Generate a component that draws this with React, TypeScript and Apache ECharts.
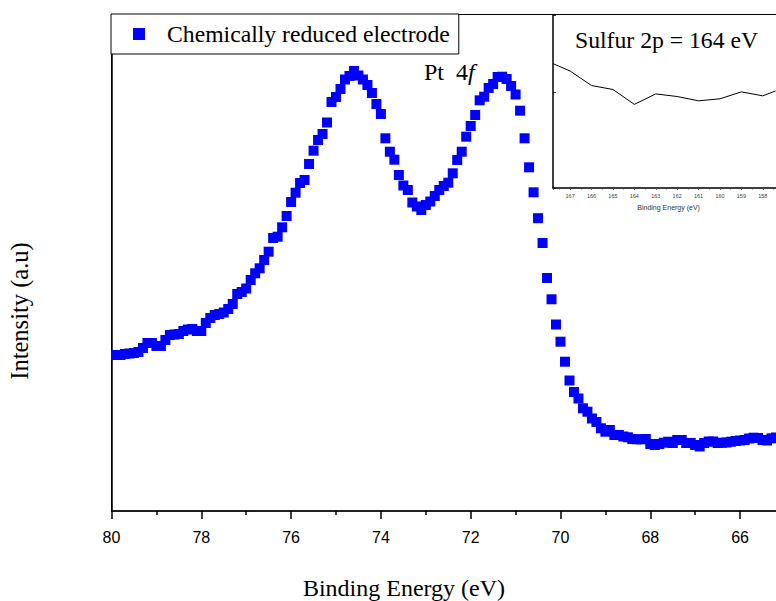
import React, { useEffect, useRef } from 'react';
import * as echarts from 'echarts';

// Main spectrum: binding energy (eV) and intensity (a.u.)
const energies = [
  79.9, 79.8, 79.7, 79.6, 79.5, 79.4, 79.3, 79.2, 79.1, 79.0,
  78.9, 78.8, 78.7, 78.6, 78.5, 78.4, 78.3, 78.2, 78.1, 78.0,
  77.9, 77.8, 77.7, 77.6, 77.5, 77.4, 77.3, 77.2, 77.1, 77.0,
  76.9, 76.8, 76.7, 76.6, 76.5, 76.4, 76.3, 76.2, 76.1, 76.0,
  75.9, 75.8, 75.7, 75.6, 75.5, 75.4, 75.3, 75.2, 75.1, 75.0,
  74.9, 74.8, 74.7, 74.6, 74.5, 74.4, 74.3, 74.2, 74.1, 74.0,
  73.9, 73.8, 73.7, 73.6, 73.5, 73.4, 73.3, 73.2, 73.1, 73.0,
  72.9, 72.8, 72.7, 72.6, 72.5, 72.4, 72.3, 72.2, 72.1, 72.0,
  71.9, 71.8, 71.7, 71.6, 71.5, 71.4, 71.3, 71.2, 71.1, 71.0,
  70.9, 70.8, 70.7, 70.6, 70.5, 70.4, 70.3, 70.2, 70.1, 70.0,
  69.9, 69.8, 69.7, 69.6, 69.5, 69.4, 69.3, 69.2, 69.1, 69.0,
  68.9, 68.8, 68.7, 68.6, 68.5, 68.4, 68.3, 68.2, 68.1, 68.0,
  67.9, 67.8, 67.7, 67.6, 67.5, 67.4, 67.3, 67.2, 67.1, 67.0,
  66.9, 66.8, 66.7, 66.6, 66.5, 66.4, 66.3, 66.2, 66.1, 66.0,
  65.9, 65.8, 65.7, 65.6, 65.5, 65.4, 65.3, 65.2,
];

const intensities = [
  156, 156, 157, 157.5, 158, 159, 163, 168, 168, 165,
  165, 171, 176, 176.5, 177, 180, 181.5, 182, 180, 180,
  188, 193, 196, 197, 198.5, 202, 207, 217, 219, 222.5,
  231, 237.7, 242.7, 251, 259.3, 273, 274.3, 283.7, 295, 309,
  318.3, 328, 331, 347, 360.3, 371, 377, 388.5, 409, 414,
  422, 431.5, 435, 440, 435.5, 431.5, 426, 418, 407, 397,
  372.7, 359.3, 351.3, 336, 325.5, 321, 308.5, 304.5, 301, 306,
  309.5, 315, 321, 325, 328.3, 337.7, 351, 359.3, 374.3, 385,
  396, 410.7, 414.3, 423, 427, 434, 434.3, 432, 425, 416.5,
  400.3, 372.7, 343.7, 318.7, 292.8, 268, 233, 211.7, 186.5, 169.3,
  149.3, 130.5, 119, 112.5, 102.7, 99.3, 92.5, 89, 82.7, 79.3,
  81, 76, 76, 74.5, 73.7, 72, 71.7, 71.7, 72, 67,
  66, 67, 68.3, 69.3, 68, 71, 71, 68, 68, 66,
  64.5, 68, 69.5, 69.5, 68, 68.3, 68.5, 69.3, 70, 70.5,
  71, 72.5, 73.3, 73, 71, 70.5, 72.7, 73.5,
];

// Inset: Sulfur 2p region
const insetEnergies = [167.8, 167, 166, 165, 164, 163, 162, 161, 160, 159, 158, 157.4];
const insetIntensities = [129.4, 121.7, 106.6, 102.5, 87.0, 97.9, 95.2, 90.7, 92.8, 100, 95.9, 101.0];

const seriesName = 'Chemically reduced electrode';
const mainXLabel = 'Binding Energy (eV)';
const mainYLabel = 'Intensity (a.u)';
const insetTitle = 'Sulfur 2p = 164 eV';
const insetXLabel = 'Binding Energy (eV)';

const SERIF = '"Liberation Serif", "Times New Roman", serif';
const SANS = '"Liberation Sans", Arial, sans-serif';

export default function App() {
  const ref = useRef<HTMLDivElement>(null);

  useEffect(() => {
    if (!ref.current) return;
    const chart = echarts.init(ref.current, null, { renderer: 'svg' });
    const option = {
      animation: false,
      backgroundColor: '#ffffff',
      grid: [
        {
          left: 111.5, top: 14.5, width: 718.4, height: 496.5,
          outerBoundsMode: 'none', containLabel: false,
          show: true, borderColor: '#000', borderWidth: 1, backgroundColor: 'transparent',
        },
        {
          left: 553, top: 15, width: 231.2, height: 173,
          outerBoundsMode: 'none', containLabel: false,
          show: true, borderWidth: 0, backgroundColor: '#ffffff',
        },
      ],
      legend: {
        data: [seriesName],
        left: 111,
        top: 14,
        padding: [8, 9, 8, 22],
        itemWidth: 12,
        itemHeight: 12,
        icon: 'rect',
        selectedMode: false,
        backgroundColor: '#ffffff',
        borderColor: '#000',
        borderWidth: 1,
        borderRadius: 0,
        textStyle: { fontFamily: SERIF, fontSize: 23.7, color: '#000', lineHeight: 21, padding: [0, 0, 0, 17] },
      },
      xAxis: [
        {
          gridIndex: 0,
          type: 'value',
          min: 64,
          max: 80,
          interval: 2,
          inverse: true,
          axisLine: { onZero: false, lineStyle: { color: '#000', width: 1.5 } },
          axisTick: { length: 8, lineStyle: { color: '#000', width: 1.5 } },
          minorTick: { show: true, splitNumber: 2, length: 4, lineStyle: { color: '#000', width: 1.5 } },
          axisLabel: {
            fontFamily: SANS,
            fontSize: 16,
            color: '#000',
            margin: 18,
            formatter: (v: number) => (v >= 66 ? String(v) : ''),
          },
          splitLine: { show: false },
          minorSplitLine: { show: false },
        },
        {
          gridIndex: 1,
          type: 'value',
          min: 157,
          max: 167.8,
          interval: 1,
          inverse: true,
          name: insetXLabel,
          nameLocation: 'middle',
          nameGap: 16,
          nameTextStyle: { fontFamily: SANS, fontSize: 7, color: '#333' },
          axisLine: { onZero: false, lineStyle: { color: '#000', width: 1.5 } },
          axisTick: { length: 2, lineStyle: { color: '#444', width: 0.8 } },
          minorTick: { show: true, splitNumber: 2, length: 1.5, lineStyle: { color: '#444', width: 0.8 } },
          axisLabel: {
            fontFamily: SANS,
            fontSize: 5.5,
            color: '#444',
            margin: 5,
            interval: 0,
            formatter: (v: number) => (Number.isInteger(v) && v >= 158 ? String(v) : ''),
          },
          splitLine: { show: false },
        },
      ],
      yAxis: [
        {
          gridIndex: 0,
          type: 'value',
          min: 0,
          max: 496.5,
          axisLine: { show: true, onZero: false, lineStyle: { color: '#000', width: 1.5 } },
          axisTick: { show: false },
          axisLabel: { show: false },
          splitLine: { show: false },
        },
        {
          gridIndex: 1,
          type: 'value',
          min: 0,
          max: 180,
          interval: 100,
          axisLine: { show: true, onZero: false, lineStyle: { color: '#000', width: 1.5 } },
          axisTick: { show: true, inside: true, length: 3, lineStyle: { color: '#000', width: 0.8 } },
          axisLabel: { show: false },
          splitLine: { show: false },
        },
      ],
      series: [
        {
          name: seriesName,
          type: 'scatter',
          xAxisIndex: 0,
          yAxisIndex: 0,
          symbol: 'rect',
          symbolSize: 10,
          itemStyle: { color: '#0000ff', opacity: 1 },
          data: energies.map((e, i) => [e, intensities[i]]),
        },
        {
          name: 'Sulfur 2p',
          type: 'line',
          xAxisIndex: 1,
          yAxisIndex: 1,
          symbol: 'none',
          lineStyle: { color: '#000', width: 1 },
          z: 5,
          data: insetEnergies.map((e, i) => [e, insetIntensities[i]]),
        },
      ],
      graphic: [
        {
          type: 'text',
          z: 20,
          x: 424,
          y: 72,
          style: {
            text: '{a|Pt  4}{b|f}',
            verticalAlign: 'middle',
            rich: {
              a: { fontFamily: SERIF, fontSize: 24, fill: '#000' },
              b: { fontFamily: SERIF, fontSize: 24, fontStyle: 'italic', fill: '#000' },
            },
          },
        },
        {
          type: 'text',
          z: 20,
          x: 575,
          y: 40,
          style: { text: insetTitle, fontFamily: SERIF, fontSize: 23.7, fill: '#000', verticalAlign: 'middle' },
        },
        {
          type: 'text',
          z: 20,
          x: 404,
          y: 588,
          style: { text: mainXLabel, fontFamily: SERIF, fontSize: 24, fill: '#000', align: 'center', verticalAlign: 'middle' },
        },
        {
          type: 'text',
          z: 20,
          x: 19,
          y: 311,
          rotation: Math.PI / 2,
          style: { text: mainYLabel, fontFamily: SERIF, fontSize: 24.5, fill: '#000', align: 'center', verticalAlign: 'middle' },
        },
      ],
    };
    chart.setOption(option as any);
    return () => chart.dispose();
  }, []);

  return (
    <div
      ref={ref}
      style={{ position: 'absolute', left: 0, top: 0, width: 776, height: 601, background: '#fff' }}
    />
  );
}
